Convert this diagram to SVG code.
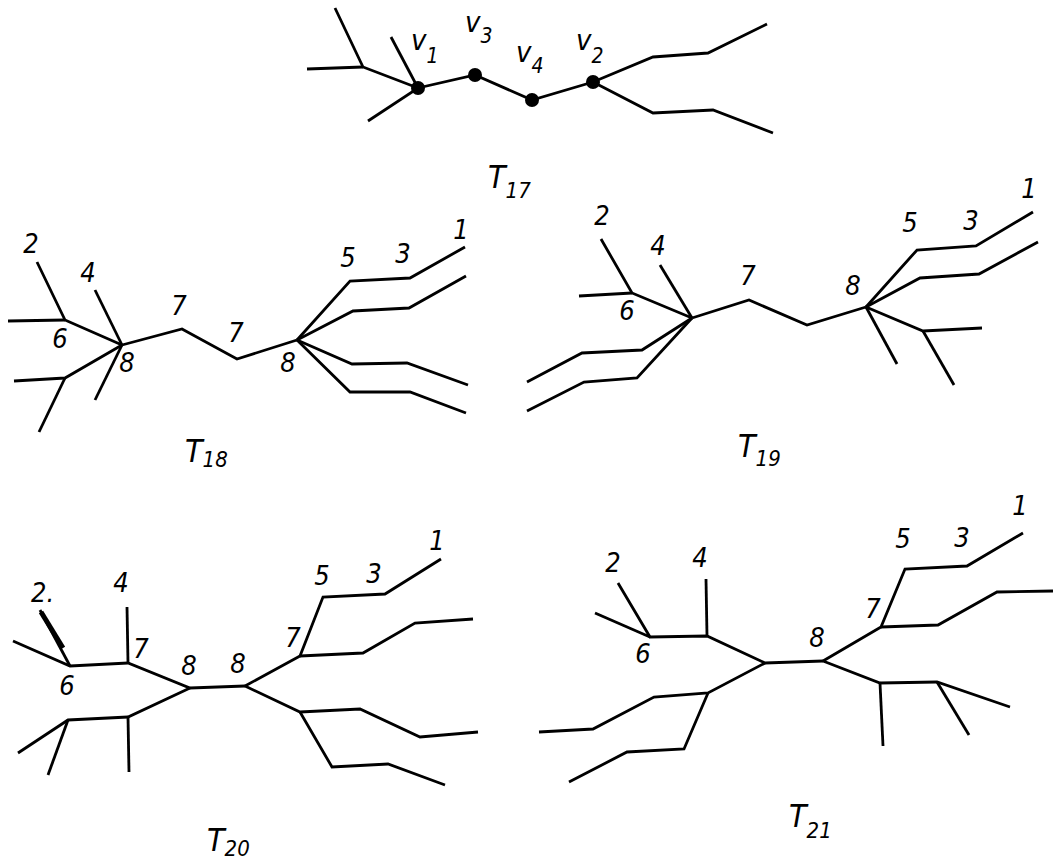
<svg xmlns="http://www.w3.org/2000/svg" width="1053" height="864" viewBox="0 0 1053 864">
<style>
.e{fill:none;stroke:#000;stroke-width:2.8;stroke-linejoin:miter;stroke-linecap:butt}
.d{fill:#000}
.n{font-family:"Liberation Sans Narrow","DejaVu Sans Condensed","Liberation Sans",sans-serif;font-style:italic;font-size:27px;text-anchor:middle;fill:#000}
.v{font-family:"Liberation Sans Narrow","DejaVu Sans Condensed","Liberation Sans",sans-serif;font-style:italic;font-size:29px;fill:#000}
.t{font-family:"Liberation Sans Narrow","DejaVu Sans Condensed","Liberation Sans",sans-serif;font-style:italic;font-size:32px;fill:#000}
.s{font-size:22px}
.vs{font-size:21px}
</style>
<rect width="1053" height="864" fill="#fff"/>

<g id="T17">
  <g id="T17-connectors">
    <polyline class="e" points="335,8 363,67 418,88"/>
    <polyline class="e" points="307,69 363,67"/>
    <polyline class="e" points="391,37 418,88"/>
    <polyline class="e" points="368,121 418,88 475,75 532,100 593,82 653,57 708,53 767,24"/>
    <polyline class="e" points="593,82 653,113 713,110 773,133"/>
  </g>
  <g id="T17-v1"><circle class="d" cx="418" cy="88" r="7"/><text class="v" x="411" y="50">v<tspan class="vs" dy="13">1</tspan></text></g>
  <g id="T17-v3"><circle class="d" cx="475" cy="75" r="7"/><text class="v" x="465" y="32">v<tspan class="vs" dy="11">3</tspan></text></g>
  <g id="T17-v4"><circle class="d" cx="532" cy="100" r="7"/><text class="v" x="516" y="62">v<tspan class="vs" dy="11">4</tspan></text></g>
  <g id="T17-v2"><circle class="d" cx="593" cy="82" r="7"/><text class="v" x="576" y="50">v<tspan class="vs" dy="13">2</tspan></text></g>
  <text id="T17-label" class="t" x="488" y="188">T<tspan class="s" dy="10">17</tspan></text>
</g>

<g id="T18">
  <g id="T18-connectors">
    <polyline class="e" points="37,262 65,320 122,345"/>
    <polyline class="e" points="8,321 65,320"/>
    <polyline class="e" points="95,290 122,345"/>
    <polyline class="e" points="14,381 65,378 122,345"/>
    <polyline class="e" points="39,432 65,378"/>
    <polyline class="e" points="122,345 95,400"/>
    <polyline class="e" points="122,345 182,329 237,359 297,340"/>
    <polyline class="e" points="297,340 350,281 410,278 465,247"/>
    <polyline class="e" points="297,340 353,311 409,308 466,276"/>
    <polyline class="e" points="297,340 352,364 407,363 468,385"/>
    <polyline class="e" points="297,340 350,392 410,392 466,413"/>
  </g>
  <g id="T18-labels">
    <text class="n" x="31" y="253">2</text>
    <text class="n" x="88" y="282">4</text>
    <text class="n" x="60" y="348">6</text>
    <text class="n" x="127" y="372">8</text>
    <text class="n" x="179" y="315">7</text>
    <text class="n" x="236" y="342">7</text>
    <text class="n" x="288" y="372">8</text>
    <text class="n" x="348" y="267">5</text>
    <text class="n" x="403" y="263">3</text>
    <text class="n" x="461" y="239">1</text>
  </g>
  <text id="T18-label" class="t" x="185" y="462">T<tspan class="s" dy="5">18</tspan></text>
</g>

<g id="T19">
  <g id="T19-connectors">
    <polyline class="e" points="601,239 632,293 692,318"/>
    <polyline class="e" points="579,296 632,293"/>
    <polyline class="e" points="660,265 692,318"/>
    <polyline class="e" points="692,318 642,350 582,353 527,382"/>
    <polyline class="e" points="692,318 637,378 584,382 527,411"/>
    <polyline class="e" points="692,318 749,300 807,325 866,307"/>
    <polyline class="e" points="866,307 917,250 976,246 1033,212"/>
    <polyline class="e" points="866,307 920,278 979,274 1038,242"/>
    <polyline class="e" points="866,307 897,364"/>
    <polyline class="e" points="866,307 923,331 982,328"/>
    <polyline class="e" points="923,331 954,385"/>
  </g>
  <g id="T19-labels">
    <text class="n" x="602" y="225">2</text>
    <text class="n" x="658" y="255">4</text>
    <text class="n" x="627" y="320">6</text>
    <text class="n" x="748" y="285">7</text>
    <text class="n" x="853" y="295">8</text>
    <text class="n" x="910" y="232">5</text>
    <text class="n" x="971" y="230">3</text>
    <text class="n" x="1029" y="198">1</text>
  </g>
  <text id="T19-label" class="t" x="738" y="457">T<tspan class="s" dy="9">19</tspan></text>
</g>

<g id="T20">
  <g id="T20-connectors">
    <polyline class="e" points="40,610 70,666"/>
    <polyline class="e" style="stroke-width:5" points="41,612 63,648"/>
    <polyline class="e" points="13,641 70,666 128,663 190,688 245,686"/>
    <polyline class="e" points="127,607 128,663"/>
    <polyline class="e" points="190,688 128,717 68,720 18,753"/>
    <polyline class="e" points="68,720 48,775"/>
    <polyline class="e" points="128,717 129,772"/>
    <polyline class="e" points="245,686 300,656 323,597 385,594 441,559"/>
    <polyline class="e" points="300,656 363,653 415,623 473,619"/>
    <polyline class="e" points="245,686 300,712 360,709 420,737 478,732"/>
    <polyline class="e" points="300,712 332,767 388,764 445,785"/>
  </g>
  <g id="T20-labels">
    <text class="n" x="31" y="602" style="text-anchor:start">2.</text>
    <text class="n" x="121" y="592">4</text>
    <text class="n" x="141" y="658">7</text>
    <text class="n" x="67" y="695">6</text>
    <text class="n" x="189" y="675">8</text>
    <text class="n" x="238" y="673">8</text>
    <text class="n" x="293" y="647">7</text>
    <text class="n" x="322" y="585">5</text>
    <text class="n" x="374" y="583">3</text>
    <text class="n" x="437" y="550">1</text>
  </g>
  <text id="T20-label" class="t" x="207" y="851">T<tspan class="s" dy="5">20</tspan></text>
</g>

<g id="T21">
  <g id="T21-connectors">
    <polyline class="e" points="618,583 650,637 707,636 765,663 823,661"/>
    <polyline class="e" points="595,613 650,637"/>
    <polyline class="e" points="706,579 707,636"/>
    <polyline class="e" points="765,663 708,693 654,697 593,729 539,732"/>
    <polyline class="e" points="708,693 684,749 627,752 569,782"/>
    <polyline class="e" points="823,661 881,627 905,569 967,566 1023,533"/>
    <polyline class="e" points="881,627 938,625 997,592 1053,591"/>
    <polyline class="e" points="823,661 880,683 937,682 1010,707"/>
    <polyline class="e" points="880,683 883,746"/>
    <polyline class="e" points="937,682 969,735"/>
  </g>
  <g id="T21-labels">
    <text class="n" x="613" y="572">2</text>
    <text class="n" x="700" y="567">4</text>
    <text class="n" x="643" y="663">6</text>
    <text class="n" x="873" y="618">7</text>
    <text class="n" x="817" y="647">8</text>
    <text class="n" x="903" y="548">5</text>
    <text class="n" x="962" y="547">3</text>
    <text class="n" x="1020" y="515">1</text>
  </g>
  <text id="T21-label" class="t" x="789" y="827">T<tspan class="s" dy="11">21</tspan></text>
</g>
</svg>
